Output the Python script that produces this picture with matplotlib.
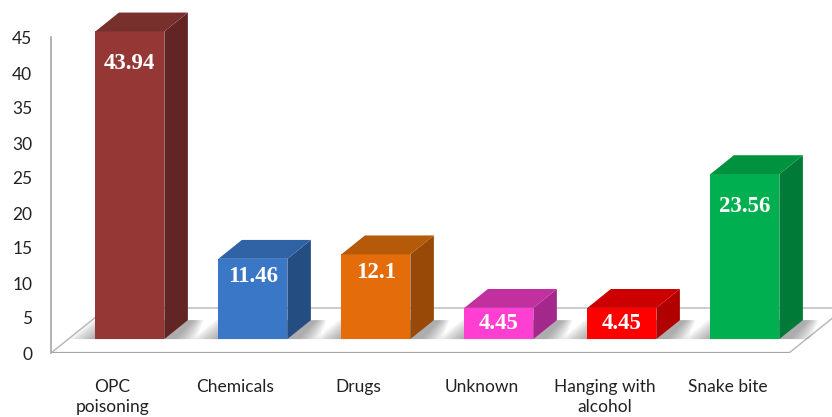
import matplotlib
matplotlib.use("Agg")
import matplotlib.pyplot as plt
from matplotlib.patches import Polygon

# Data
categories = ["OPC\npoisoning", "Chemicals", "Drugs", "Unknown", "Hanging with\nalcohol", "Snake bite"]
values = [43.94, 11.46, 12.1, 4.45, 4.45, 23.56]
value_labels = ["43.94", "11.46", "12.1", "4.45", "4.45", "23.56"]
yticks = [0, 5, 10, 15, 20, 25, 30, 35, 40, 45]

# Face colours: front, side, top
front_colors = ["#953735", "#3a77c6", "#e46c0a", "#ff3fd2", "#ff0000", "#00b050"]
side_colors = ["#632523", "#244d82", "#984807", "#a4278c", "#b00000", "#007a37"]
top_colors = ["#78302d", "#2f63a6", "#b45a08", "#c2309f", "#cc0000", "#00923f"]

W, H, DPI = 832, 417, 100
fig = plt.figure(figsize=(W / DPI, H / DPI), dpi=DPI)

# Axes: left spine at x=51px, value 0 at y=353px, 7 px per unit
left_px, base_px, slot_px, unit_px = 51, 353, 123, 7.0
ax = fig.add_axes([left_px / W, (H - base_px) / H, (W - left_px) / W, base_px / H])
ax.set_xlim(-0.5, -0.5 + (W - left_px) / slot_px)
ax.set_ylim(0, base_px / unit_px)

# Oblique depth projection (full floor depth)
DX = 56 / slot_px
DV = 45 / unit_px
z_front, z_back = 0.31, 0.73
bar_w = 69 / slot_px

n = len(values)
floor = Polygon([(-0.5, 0), (n - 0.5, 0), (n - 0.5 + DX, DV), (-0.5 + DX, DV)],
                closed=True, facecolor="white", edgecolor="#b5b5b5", lw=1.0, zorder=1)
ax.add_patch(floor)
ax.plot([-0.5, n - 0.5], [0, 0], color="#a6a6a6", lw=1.6, zorder=1.5, solid_capstyle="butt")

# Soft shadows on the floor under each bar
dx = (z_back - z_front) * DX
dv = (z_back - z_front) * DV
for i in range(n):
    xl = i - bar_w / 2 + z_front * DX
    xr = i + bar_w / 2 + z_front * DX
    y0 = z_front * DV
    for k in range(10):
        grow_l = 0.2 * k / 9 + 0.01
        grow_r = 0.16 * k / 9 + dx * 0.5
        poly = Polygon([(xl - grow_l, y0), (xr + grow_r, y0),
                        (xr + dx + grow_r * 0.5, y0 + dv), (xl + dx - grow_l, y0 + dv)],
                       closed=True, facecolor="#6f6f6f", edgecolor="none",
                       alpha=0.075, zorder=2)
        ax.add_patch(poly)

# Bars: front faces via ax.bar, then side and top faces from the same values
x_front = [i + z_front * DX for i in range(n)]
bars = ax.bar(x_front, values, width=bar_w, bottom=z_front * DV,
              color=front_colors, edgecolor="none", zorder=3)
for i, (b, v) in enumerate(zip(bars, values)):
    xl = b.get_x()
    xr = xl + b.get_width()
    y0 = b.get_y()
    yt = y0 + v
    side = Polygon([(xr, y0), (xr + dx, y0 + dv), (xr + dx, yt + dv), (xr, yt)],
                   closed=True, facecolor=side_colors[i], edgecolor="none", zorder=3)
    top = Polygon([(xl, yt), (xr, yt), (xr + dx, yt + dv), (xl + dx, yt + dv)],
                  closed=True, facecolor=top_colors[i], edgecolor="none", zorder=3)
    ax.add_patch(side)
    ax.add_patch(top)
    # label sits near the top of tall bars, centred on short ones
    drop = min(4.6, 0.22 * v) if v > 8 else v / 2
    ax.text(b.get_x() + b.get_width() / 2, yt - drop, value_labels[i], color="white",
            fontsize=16.5, fontweight="bold", family="Liberation Serif",
            ha="center", va="center", zorder=4)

# Axes styling
for s in ["top", "right", "bottom"]:
    ax.spines[s].set_visible(False)
ax.spines["left"].set_color("#a6a6a6")
ax.spines["left"].set_linewidth(1.2)
ax.spines["left"].set_bounds(0, 45.1)
ax.set_yticks(yticks)
ax.set_yticklabels([str(t) for t in yticks])
ax.tick_params(axis="y", length=0, pad=13.5, labelsize=12.5, labelcolor="#222222")
ax.set_xticks(range(n))
ax.set_xticklabels(categories, linespacing=1.3)
ax.tick_params(axis="x", length=0, pad=19, labelsize=12.5, labelcolor="#222222")
for lbl in ax.get_xticklabels() + ax.get_yticklabels():
    lbl.set_family("Lato")
ax.patch.set_visible(False)

fig.savefig("out.png", dpi=DPI)
